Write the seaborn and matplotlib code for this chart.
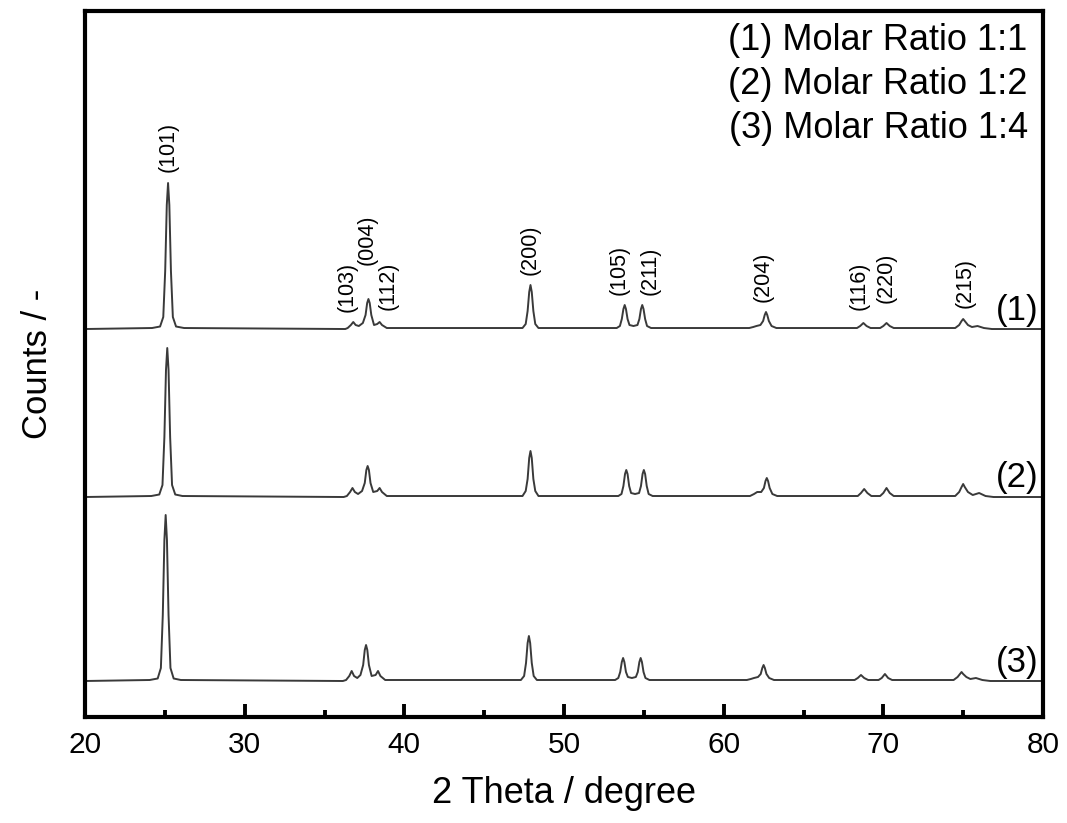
import numpy as np
import pandas as pd
import seaborn as sns
import matplotlib
matplotlib.use("Agg")
import matplotlib.pyplot as plt
from matplotlib.ticker import MultipleLocator

# XRD knots (2 theta, counts above each trace's background)
x1 = [20, 24.2,
      24.7, 24.9, 25.02, 25.12, 25.2, 25.28, 25.38, 25.5, 25.7,
      26.2, 36.3,
      36.45, 36.65, 36.8, 36.95, 37.15, 37.4, 37.57, 37.67, 37.75, 37.83, 37.93, 38.1, 38.3, 38.45, 38.6, 38.9,
      47.4, 47.6, 47.72, 47.82, 47.9, 47.98, 48.08, 48.2, 48.4,
      53.3, 53.5, 53.62, 53.72, 53.8, 53.88, 53.98, 54.1, 54.35, 54.6, 54.72, 54.82, 54.9, 54.98, 55.08, 55.2, 55.45,
      61.6, 61.85, 62.05, 62.3, 62.47, 62.57, 62.65, 62.73, 62.83, 63.0, 63.3,
      68.35, 68.55, 68.75, 68.95, 69.2, 69.8, 70.0, 70.2, 70.4, 70.65,
      74.5, 74.75, 74.9, 75.0, 75.1, 75.3, 75.55, 75.9, 76.3, 76.8, 80]
y1 = [0, 1,
      2.5, 12, 58, 124, 146, 124, 58, 12, 2.5,
      1, 0,
      1, 4, 7, 4, 3, 6, 14, 26, 30, 26, 14, 4, 5, 7, 4, 1,
      1, 5, 18, 37, 44, 37, 18, 5, 1,
      1, 3, 10, 20, 24, 20, 10, 4, 3, 4, 10, 20, 24, 20, 10, 3, 1,
      1, 2, 3, 4, 8, 14, 17, 14, 8, 3, 1,
      1, 3, 6, 3, 1, 1, 3, 6, 3, 1,
      1, 4, 8, 10, 8, 4, 2, 3, 1, 0, 0]

x2 = [20, 24.15,
      24.65, 24.85, 24.97, 25.07, 25.15, 25.23, 25.33, 25.45, 25.65,
      26.1, 36.2,
      36.4, 36.6, 36.75, 36.9, 37.1, 37.35, 37.52, 37.62, 37.7, 37.78, 37.88, 38.05, 38.3, 38.45, 38.6, 38.9,
      47.4, 47.6, 47.72, 47.82, 47.9, 47.98, 48.08, 48.2, 48.4,
      53.4, 53.6, 53.72, 53.82, 53.9, 53.98, 54.08, 54.2, 54.45, 54.7, 54.82, 54.92, 55.0, 55.08, 55.18, 55.3, 55.55,
      61.65, 61.9, 62.1, 62.35, 62.52, 62.62, 62.7, 62.78, 62.88, 63.05, 63.35,
      68.4, 68.6, 68.8, 69.0, 69.25, 69.8, 70.0, 70.2, 70.4, 70.65,
      74.5, 74.75, 74.9, 75.0, 75.1, 75.3, 75.6, 76.0, 76.4, 76.9, 80]
y2 = [0, 1,
      2.5, 12, 60, 127, 149, 127, 60, 12, 2.5,
      1, 0,
      1, 5, 9, 5, 3, 6, 14, 27, 31, 27, 14, 5, 6, 9, 5, 1,
      1, 6, 18, 39, 46, 39, 18, 6, 1,
      1, 3, 11, 23, 27, 23, 11, 4, 3, 4, 11, 23, 27, 23, 11, 3, 1,
      1, 3, 5, 5, 9, 16, 19, 16, 9, 3, 1,
      1, 4, 8, 4, 1, 1, 4, 9, 4, 1,
      1, 5, 10, 13, 10, 5, 2, 4, 1, 0, 0]

x3 = [20, 24.05,
      24.55, 24.75, 24.87, 24.97, 25.05, 25.13, 25.23, 25.35, 25.55,
      26.0, 36.15,
      36.35, 36.55, 36.7, 36.85, 37.05, 37.25, 37.42, 37.52, 37.6, 37.68, 37.78, 37.95, 38.2, 38.35, 38.5, 38.8,
      47.3, 47.5, 47.62, 47.72, 47.8, 47.88, 47.98, 48.1, 48.3,
      53.2, 53.4, 53.52, 53.62, 53.7, 53.78, 53.88, 54.0, 54.25, 54.5, 54.62, 54.72, 54.8, 54.88, 54.98, 55.1, 55.35,
      61.45, 61.7, 61.9, 62.15, 62.32, 62.42, 62.5, 62.58, 62.68, 62.85, 63.15,
      68.2, 68.4, 68.6, 68.8, 69.05, 69.7, 69.9, 70.1, 70.3, 70.55,
      74.4, 74.65, 74.8, 74.9, 75.0, 75.2, 75.45, 75.8, 76.2, 76.7, 80]
y3 = [0, 1,
      2.5, 13, 66, 141, 166, 141, 66, 13, 2.5,
      1, 0,
      1, 5, 10, 5, 3, 6, 16, 31, 36, 31, 16, 5, 6, 10, 5, 1,
      1, 5, 18, 38, 45, 38, 18, 5, 1,
      1, 3, 9, 19, 23, 19, 9, 4, 3, 4, 9, 19, 23, 19, 9, 3, 1,
      1, 2, 3, 4, 7, 13, 16, 13, 7, 3, 1,
      1, 3, 6, 3, 1, 1, 3, 7, 3, 1,
      1, 4, 7, 9, 7, 4, 2, 3, 1, 0, 0]

trace_names = ["(1)", "(2)", "(3)"]
legend_lines = ["(1) Molar Ratio 1:1", "(2) Molar Ratio 1:2", "(3) Molar Ratio 1:4"]

# hkl labels for the top pattern
hkl = ["(101)", "(103)", "(004)", "(112)", "(200)", "(105)", "(211)",
       "(204)", "(116)", "(220)", "(215)"]

# layout: stacking offsets and label anchors
offsets = [388, 220, 36]
hkl_x = [25.2, 36.4, 37.65, 39.0, 47.85, 53.45, 55.4, 62.5, 68.5, 70.2, 75.1]
hkl_y = [545, 405, 452, 407, 442, 422, 422, 415, 407, 414, 409]
name_y = [407, 240, 54]

traces = [(x1, y1), (x2, y2), (x3, y3)]

sns.set_style("ticks")
plt.rcParams["font.family"] = ["Liberation Sans", "DejaVu Sans"]
plt.rcParams["text.color"] = "black"
plt.rcParams["axes.labelcolor"] = "black"
plt.rcParams["xtick.color"] = "black"

fig = plt.figure(figsize=(10.67, 8.23), dpi=100)
ax = fig.add_axes([0.0797, 0.1288, 0.8978, 0.8578])

line_color = "#3a3a3a"
for (xs, ys), off in zip(traces, offsets):
    sns.lineplot(x=xs, y=np.array(ys) + off, ax=ax, color=line_color,
                 linewidth=1.4, sort=False, estimator=None)

ax.set_xlim(20, 80)
ax.set_ylim(0, 706)

for lab, lx, ly in zip(hkl, hkl_x, hkl_y):
    ax.text(lx, ly, lab, rotation=90, ha="center", va="bottom", fontsize=15.5)

for name, ny in zip(trace_names, name_y):
    ax.text(79.7, ny, name, ha="right", va="center", fontsize=25)

for i, line in enumerate(legend_lines):
    ax.text(0.984, 0.958 - i * 0.0623, line, transform=ax.transAxes,
            ha="right", va="center", fontsize=26)

ax.xaxis.set_major_locator(MultipleLocator(10))
ax.xaxis.set_minor_locator(MultipleLocator(5))
ax.set_yticks([])
ax.tick_params(axis="x", which="major", direction="in", length=9.5, width=2.8,
               labelsize=21.5, pad=10)
ax.tick_params(axis="x", which="minor", direction="in", length=5, width=2.8)
for sp in ax.spines.values():
    sp.set_visible(True)
    sp.set_linewidth(3)
    sp.set_color("black")

ax.set_xlabel("2 Theta / degree", fontsize=26, labelpad=12)
ax.set_ylabel("Counts / -", fontsize=25, labelpad=22)

fig.savefig("out.png", dpi=100)
plt.close(fig)
